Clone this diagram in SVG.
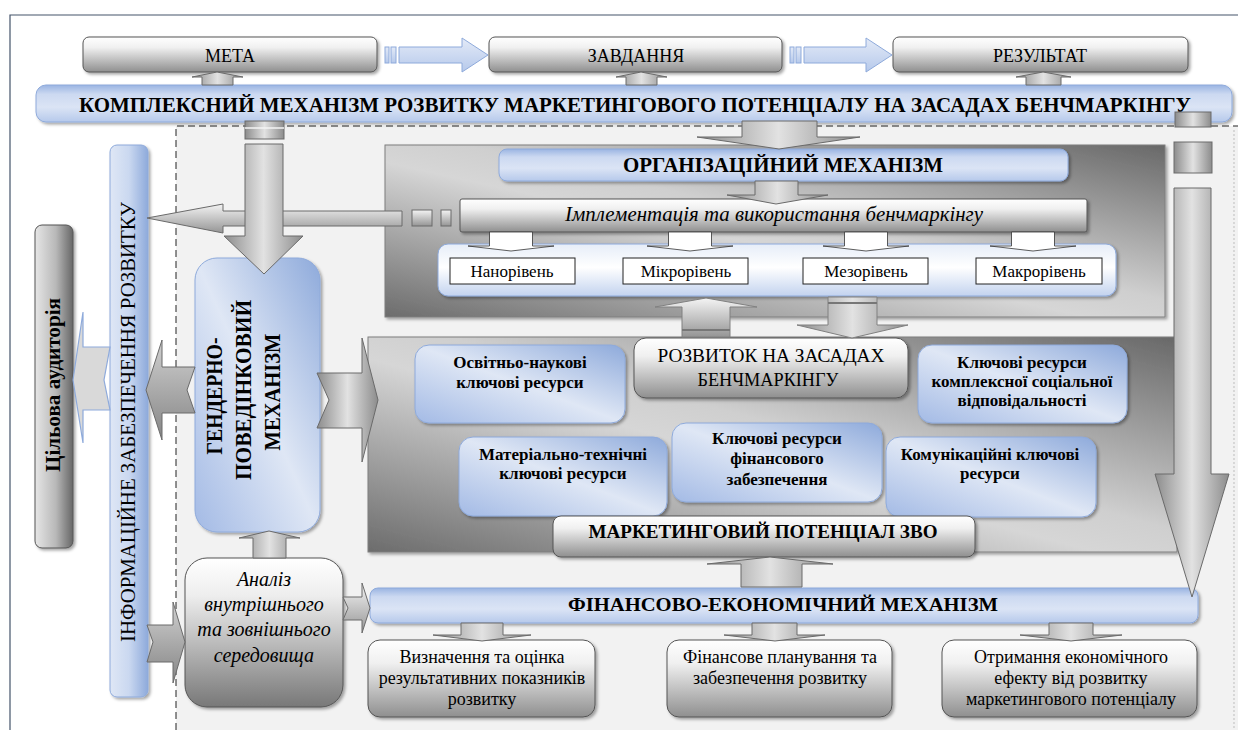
<svg xmlns="http://www.w3.org/2000/svg" width="1238" height="730" viewBox="0 0 1238 730">
<defs>
<linearGradient id="gBox" x1="0" y1="0" x2="0" y2="1"><stop offset="0" stop-color="#ffffff"/><stop offset="0.3" stop-color="#f0f0f0"/><stop offset="1" stop-color="#8f8f8f"/></linearGradient>
<linearGradient id="gBoxDark" x1="0" y1="0" x2="0" y2="1"><stop offset="0" stop-color="#ffffff"/><stop offset="0.25" stop-color="#eeeeee"/><stop offset="1" stop-color="#787878"/></linearGradient>
<linearGradient id="gBanner" x1="0" y1="0" x2="0" y2="1"><stop offset="0" stop-color="#9ab4e2"/><stop offset="0.25" stop-color="#ccd9f1"/><stop offset="0.6" stop-color="#dbe4f5"/><stop offset="1" stop-color="#b6c9eb"/></linearGradient>
<linearGradient id="gBlueH" x1="0" y1="0" x2="1" y2="0"><stop offset="0" stop-color="#dfe7f5"/><stop offset="0.5" stop-color="#cad8f0"/><stop offset="1" stop-color="#8eaadb"/></linearGradient>
<linearGradient id="gBlueD" x1="0" y1="1" x2="1" y2="0"><stop offset="0" stop-color="#a3bae5"/><stop offset="0.5" stop-color="#dfe7f5"/><stop offset="1" stop-color="#8eaadb"/></linearGradient>
<linearGradient id="gPanel" x1="0" y1="1" x2="1" y2="0"><stop offset="0" stop-color="#6c6c6c"/><stop offset="0.45" stop-color="#d6d6d6"/><stop offset="0.55" stop-color="#cfcfcf"/><stop offset="1" stop-color="#686868"/></linearGradient>
<linearGradient id="gGrayH" x1="0" y1="0" x2="1" y2="0"><stop offset="0" stop-color="#e6e6e6"/><stop offset="0.55" stop-color="#b8b8b8"/><stop offset="1" stop-color="#666666"/></linearGradient>
<linearGradient id="gArrV" x1="0" y1="0" x2="1" y2="0"><stop offset="0" stop-color="#8c8c8c"/><stop offset="0.5" stop-color="#e2e2e2"/><stop offset="1" stop-color="#8c8c8c"/></linearGradient>
<linearGradient id="gArrH" x1="0" y1="0" x2="0" y2="1"><stop offset="0" stop-color="#f4f4f4"/><stop offset="1" stop-color="#959595"/></linearGradient>
<linearGradient id="gArrHD" x1="0" y1="0" x2="0" y2="1"><stop offset="0" stop-color="#d0d0d0"/><stop offset="1" stop-color="#858585"/></linearGradient>
<linearGradient id="gTopArr" x1="0" y1="0" x2="0" y2="1"><stop offset="0" stop-color="#e3eaf7"/><stop offset="1" stop-color="#b6c9eb"/></linearGradient>
<linearGradient id="gLevels" x1="0" y1="0" x2="0" y2="1"><stop offset="0" stop-color="#e6edf8"/><stop offset="0.45" stop-color="#ffffff"/><stop offset="1" stop-color="#c3d3ef"/></linearGradient>
<filter id="sh" x="-10%" y="-10%" width="130%" height="130%"><feDropShadow dx="2" dy="2" stdDeviation="1.5" flood-color="#000" flood-opacity="0.35"/></filter>
</defs>
<style>
.box{fill:url(#gBox);stroke:#555;stroke-width:1;filter:url(#sh)}
.banner{fill:url(#gBanner);stroke:#8eaadb;stroke-width:1;filter:url(#sh)}
.res{fill:url(#gBlueD);stroke:#8eaadb;stroke-width:1;filter:url(#sh)}
.panel{fill:url(#gPanel);stroke:#7f7f7f;stroke-width:1;filter:url(#sh)}
.lvl{fill:#fff;stroke:#222;stroke-width:1}
.av{fill:url(#gArrV);stroke:#6a6a6a;stroke-width:1}
.ah{fill:url(#gArrH);stroke:#6a6a6a;stroke-width:1}
.aw{fill:#fff;stroke:#333;stroke-width:0.8}
.at{fill:url(#gTopArr);stroke:#8eaadb;stroke-width:1}
</style>

<!-- background -->
<rect x="176" y="126" width="1062" height="604" fill="#f2f2f2"/>
<path d="M176,730 V126 H1238" fill="none" stroke="#222" stroke-width="1" stroke-dasharray="7,4"/>
<path d="M1234,130 V730" fill="none" stroke="#bdbdbd" stroke-width="1" stroke-dasharray="2,2"/>
<path d="M10,730 V15 H1238" fill="none" stroke="#44546a" stroke-width="1.2"/>

<g font-family="Liberation Serif, serif" text-anchor="middle">
<!-- panels -->
<g id="panel-org"><rect class="panel" x="385" y="145" width="780" height="172"/></g>
<g id="panel-potential"><rect class="panel" x="368" y="337" width="809" height="215"/></g>

<!-- top row -->
<g id="meta"><rect class="box" x="83" y="37" width="294" height="35" rx="6"/><text x="230" y="62" font-size="18">МЕТА</text></g>
<g id="zavdannia"><rect class="box" x="489" y="37" width="293" height="35" rx="6"/><text x="636" y="62" font-size="18">ЗАВДАННЯ</text></g>
<g id="rezultat"><rect class="box" x="893" y="37" width="295" height="35" rx="6"/><text x="1040" y="62" font-size="18">РЕЗУЛЬТАТ</text></g>

<g id="kompleksnyi"><rect class="banner" x="36" y="85" width="1196" height="37" rx="10"/><text x="635" y="112" font-size="20" font-weight="bold" textLength="1112" lengthAdjust="spacingAndGlyphs">КОМПЛЕКСНИЙ  МЕХАНІЗМ РОЗВИТКУ МАРКЕТИНГОВОГО ПОТЕНЦІАЛУ НА ЗАСАДАХ БЕНЧМАРКІНГУ</text></g>

<!-- left column -->
<g id="tsilova"><rect x="35" y="225" width="38" height="323" rx="7" fill="url(#gGrayH)" stroke="#555" filter="url(#sh)"/><text transform="translate(60,385) rotate(-90)" font-size="21" font-weight="bold" textLength="174" lengthAdjust="spacingAndGlyphs">Цільова аудиторія</text></g>
<g id="informatsiine"><rect x="110" y="145" width="38" height="552" rx="7" fill="url(#gBlueH)" stroke="#8eaadb" filter="url(#sh)"/><text transform="translate(135,422) rotate(-90)" font-size="22" textLength="440" lengthAdjust="spacingAndGlyphs">ІНФОРМАЦІЙНЕ ЗАБЕЗПЕЧЕННЯ РОЗВИТКУ</text></g>
<g id="henderno"><rect x="195" y="258" width="125" height="274" rx="22" fill="url(#gBlueD)" stroke="#8eaadb" filter="url(#sh)"/>
<text transform="translate(222,396) rotate(-90)" font-size="23" font-weight="bold" textLength="117" lengthAdjust="spacingAndGlyphs">ГЕНДЕРНО-</text>
<text transform="translate(251,390) rotate(-90)" font-size="23" font-weight="bold" textLength="180" lengthAdjust="spacingAndGlyphs">ПОВЕДІНКОВИЙ</text>
<text transform="translate(280,392) rotate(-90)" font-size="23" font-weight="bold" textLength="117" lengthAdjust="spacingAndGlyphs">МЕХАНІЗМ</text></g>
<g id="analiz"><rect x="185" y="558" width="158" height="149" rx="22" fill="url(#gBoxDark)" stroke="#555" filter="url(#sh)"/>
<text x="264" y="586" font-size="20" font-style="italic">Аналіз</text>
<text x="264" y="611" font-size="20" font-style="italic">внутрішнього</text>
<text x="264" y="636" font-size="20" font-style="italic">та зовнішнього</text>
<text x="264" y="662" font-size="20" font-style="italic">середовища</text></g>

<!-- organisational mechanism -->
<g id="org"><rect class="banner" x="499" y="149" width="569" height="32" rx="8"/><text x="783" y="172" font-size="20" font-weight="bold" textLength="320" lengthAdjust="spacingAndGlyphs">ОРГАНІЗАЦІЙНИЙ МЕХАНІЗМ</text></g>
<g id="implementatsiia"><rect class="box" x="460" y="199" width="627" height="33" rx="2"/><text x="774" y="221" font-size="21" font-style="italic" textLength="418" lengthAdjust="spacingAndGlyphs">Імплементація та використання бенчмаркінгу</text></g>
<g id="levels"><rect x="438" y="244" width="678" height="52" rx="10" fill="url(#gLevels)" stroke="#8eaadb" filter="url(#sh)"/></g>
<g id="nano"><rect class="lvl" x="450" y="258" width="125" height="26"/><text x="512" y="277" font-size="17">Нанорівень</text></g>
<g id="mikro"><rect class="lvl" x="623" y="258" width="125" height="26"/><text x="686" y="277" font-size="17">Мікрорівень</text></g>
<g id="mezo"><rect class="lvl" x="803" y="258" width="125" height="26"/><text x="866" y="277" font-size="17">Мезорівень</text></g>
<g id="makro"><rect class="lvl" x="976" y="258" width="126" height="26"/><text x="1039" y="277" font-size="17">Макрорівень</text></g>

<!-- potential panel contents -->
<g id="osvitno"><rect class="res" x="415" y="345" width="210" height="78" rx="14"/><text x="520" y="368" font-size="17" font-weight="bold">Освітньо-наукові</text><text x="520" y="388" font-size="17" font-weight="bold">ключові ресурси</text></g>
<g id="rozvytok"><rect class="box" x="634" y="338" width="274" height="60" rx="12"/><text x="771" y="362" font-size="18" textLength="227" lengthAdjust="spacingAndGlyphs">РОЗВИТОК НА ЗАСАДАХ</text><text x="768" y="386" font-size="18" textLength="141" lengthAdjust="spacingAndGlyphs">БЕНЧМАРКІНГУ</text></g>
<g id="kompleksnoi"><rect class="res" x="918" y="345" width="209" height="78" rx="14"/><text x="1022" y="368" font-size="17" font-weight="bold">Ключові ресурси</text><text x="1022" y="387" font-size="17" font-weight="bold">комплексної соціальної</text><text x="1022" y="406" font-size="17" font-weight="bold">відповідальності</text></g>
<g id="materialno"><rect class="res" x="459" y="437" width="208" height="79" rx="14"/><text x="563" y="460" font-size="17" font-weight="bold">Матеріально-технічні</text><text x="563" y="479" font-size="17" font-weight="bold">ключові ресурси</text></g>
<g id="finansovoho"><rect class="res" x="672" y="423" width="210" height="79" rx="14"/><text x="777" y="444" font-size="17" font-weight="bold">Ключові ресурси</text><text x="777" y="464" font-size="17" font-weight="bold">фінансового</text><text x="777" y="485" font-size="17" font-weight="bold">забезпечення</text></g>
<g id="komunikatsiini"><rect class="res" x="886" y="437" width="210" height="80" rx="14"/><text x="990" y="460" font-size="17" font-weight="bold">Комунікаційні ключові</text><text x="990" y="479" font-size="17" font-weight="bold">ресурси</text></g>
<g id="potentsial"><rect class="box" x="553" y="516" width="422" height="41" rx="8"/><text x="763" y="538" font-size="19" font-weight="bold" textLength="349" lengthAdjust="spacingAndGlyphs">МАРКЕТИНГОВИЙ ПОТЕНЦІАЛ ЗВО</text></g>

<!-- financial mechanism -->
<g id="fin"><rect class="banner" x="370" y="588" width="828" height="35" rx="8"/><text x="783" y="611" font-size="19" font-weight="bold" textLength="430" lengthAdjust="spacingAndGlyphs">ФІНАНСОВО-ЕКОНОМІЧНИЙ МЕХАНІЗМ</text></g>
<g id="vyznachennia"><rect class="box" x="368" y="640" width="227" height="77" rx="12"/><text x="482" y="663" font-size="18">Визначення та оцінка</text><text x="482" y="684" font-size="18">результативних показників</text><text x="482" y="705" font-size="18">розвитку</text></g>
<g id="planuvannia"><rect class="box" x="667" y="640" width="225" height="77" rx="12"/><text x="780" y="663" font-size="18">Фінансове планування та</text><text x="780" y="684" font-size="18">забезпечення розвитку</text></g>
<g id="efekt"><rect class="box" x="942" y="640" width="255" height="77" rx="12"/><text x="1071" y="663" font-size="18">Отримання економічного</text><text x="1071" y="684" font-size="18">ефекту від розвитку</text><text x="1071" y="705" font-size="18">маркетингового потенціалу</text></g>
</g>

<!-- connectors -->
<g id="connectors">
<rect class="at" x="385" y="47" width="4" height="16"/><rect class="at" x="391" y="47" width="5" height="16"/>
<polygon class="at" points="399,47 462,47 462,38 488,55 462,72 462,63 399,63"/>
<rect class="at" x="790" y="47" width="4" height="16"/><rect class="at" x="796" y="47" width="5" height="16"/>
<polygon class="at" points="804,47 866,47 866,38 892,55 866,72 866,63 804,63"/>
<polygon class="av" points="202,85 202,77 192,77 217,72 243,77 233,77 233,85"/>
<polygon class="av" points="626,85 626,77 616,77 641,72 667,77 657,77 657,85"/>
<polygon class="av" points="1026,85 1026,77 1016,77 1043,72 1071,77 1061,77 1061,85"/>
<polygon class="av" points="742,121 817,121 817,137 860,137 779,149 697,137 742,137"/>
<polygon class="av" points="755,181 798,181 798,195 828,195 776,204 727,195 755,195"/>
<polygon class="ah" points="402,211 223,211 223,204 147,218 223,233 223,226 402,226"/>
<rect class="ah" x="412" y="210" width="20" height="16"/>
<rect class="ah" x="441" y="210" width="10" height="16"/>
<rect class="av" x="245" y="121" width="39" height="18"/>
<line x1="245" y1="128" x2="284" y2="128" stroke="#f4f4f4" stroke-width="1.5"/>
<polygon class="av" points="245,144 283,144 283,236 303,236 264,274 224,236 245,236"/>
<polygon class="aw" points="489.5,232 532.5,232 532.5,246 554,246 511,251 468,246 489.5,246"/>
<polygon class="aw" points="668.5,232 711.5,232 711.5,246 733,246 690,251 647,246 668.5,246"/>
<polygon class="aw" points="844.5,232 887.5,232 887.5,246 909,246 866,251 823,246 844.5,246"/>
<polygon class="aw" points="1011.5,232 1054.5,232 1054.5,246 1076,246 1033,251 990,246 1011.5,246"/>
<polygon points="682,337 682,307 655,307 706,298 757,307 730,307 730,337" fill="url(#gArrH)" stroke="#808080" stroke-width="1"/>
<line x1="682" y1="330" x2="730" y2="330" stroke="#777" stroke-width="2"/>
<polygon points="828,297 877,297 877,325 908,325 852,338 797,325 828,325" fill="url(#gArrV)" stroke="#808080" stroke-width="1"/>
<line x1="828" y1="303" x2="877" y2="303" stroke="#777" stroke-width="2"/>
<polygon class="av" points="317,373 362,373 362,338 378,400 362,462 362,428 317,428 329,400"/>
<polygon points="195,367 162,367 162,340 146,390 162,440 162,413 195,413 187,390" fill="url(#gArrHD)" stroke="#6a6a6a" stroke-width="1"/>
<polygon points="110,347 83,347 83,312 73,380 83,443 83,410 110,410 104,380" fill="#d9d9d9" stroke="#8eaadb" stroke-width="1.2"/>
<polygon points="147,625 173,625 173,602 185,642 173,683 173,662 147,662 153,642" fill="url(#gArrHD)" stroke="#6a6a6a" stroke-width="1"/>
<polygon class="av" points="253,558 253,538 239,538 269,531 300,538 286,538 286,558"/>
<polygon class="ah" points="343,597 362,597 362,583 370,608 362,633 362,620 343,620 348,608"/>
<polygon class="av" points="741,587 741,564 707,564 770,557 833,564 802,564 802,587"/>
<polygon class="av" points="461,623 503,623 503,635 531,635 482,641 433,635 461,635"/>
<polygon class="av" points="752,623 797,623 797,635 825,635 775,641 724,635 752,635"/>
<polygon class="av" points="1049,623 1093,623 1093,635 1122,635 1071,641 1020,635 1049,635"/>
<rect class="av" x="1175" y="112" width="36" height="15"/>
<rect class="av" x="1174" y="142" width="38" height="31"/>
<polygon class="av" points="1174,188 1211,188 1211,474 1229,474 1192,597 1155,474 1174,474"/>
</g>
</svg>
